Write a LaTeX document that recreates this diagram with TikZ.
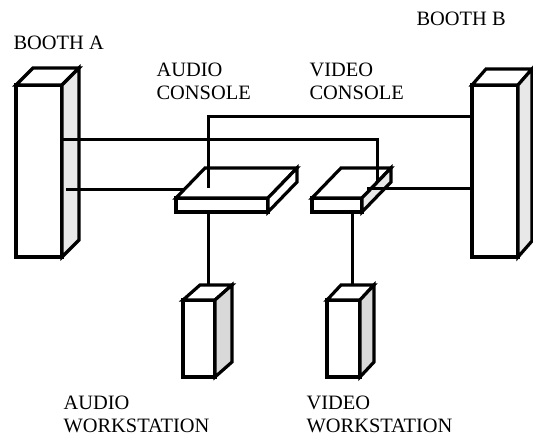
\documentclass[tikz,border=0pt]{standalone}
\usepackage{fontspec}
\setmainfont{Liberation Serif}
\begin{document}
\begin{tikzpicture}[x=1bp,y=-1bp,line join=miter,line cap=butt,line width=3.2bp]
	\tikzset{label style/.style={font=\fontsize{20.5}{23}\selectfont,inner sep=0pt,align=left},
		wire/.style={line width=3bp}}
	\useasboundingbox (0,0) rectangle (533,438);
	% boxes: x/y/width/height/dx/dy/side colour
	\foreach \x/\y/\w/\h/\dx/\dy/\c in {16/85/46/172/17/17/black!9,472/85/46/172/14/16/black!9,
		176/198/92/14/29/30/white,312/198/50/14/29/30/black!9,
		183/300/32/77/17/15/black!15,327/300/33/77/14/15/black!15}
	{
		\draw[fill=white] (\x,\y) rectangle (\x+\w,\y+\h);
		\draw[fill=white] (\x,\y)--(\x+\dx,\y-\dy)--(\x+\w+\dx,\y-\dy)--(\x+\w,\y)--cycle;
		\draw[fill=\c] (\x+\w,\y)--(\x+\w+\dx,\y-\dy)--(\x+\w+\dx,\y+\h-\dy)--(\x+\w,\y+\h)--cycle;
	}
	% connection points
	\coordinate (boothA1) at (62,140);
	\coordinate (boothA2) at (66,190);
	\coordinate (boothB1) at (472,117);
	\coordinate (boothB2) at (472,189);
	\coordinate (audioIn) at (208,188);
	\coordinate (audioEdge) at (183,190);
	\coordinate (videoIn) at (377,182);
	\coordinate (videoSide) at (367,189);
	\coordinate (audioOut) at (208,212);
	\coordinate (videoOut) at (352,212);
	\coordinate (audioWs) at (208,285);
	\coordinate (videoWs) at (352,285);
	% wires
	\draw[wire] (boothA1) -| (videoIn);
	\draw[wire] (boothA2) -- (audioEdge);
	\draw[wire] (boothB1) -| (audioIn);
	\draw[wire] (boothB2) -- (videoSide);
	\draw[wire] (audioOut) -- (audioWs);
	\draw[wire] (videoOut) -- (videoWs);
	% labels
	\node[label style,anchor=base west] (labBoothA) at (12,50) {BOOTH A};
	\node[label style,anchor=base west] (labBoothB) at (415,26) {BOOTH B};
	\node[label style,anchor=north west] (labAudioC) at (155,61) {AUDIO\\CONSOLE};
	\node[label style,anchor=north west] (labVideoC) at (308,61) {VIDEO\\CONSOLE};
	\node[label style,anchor=north west] (labAudioW) at (62,394) {AUDIO\\WORKSTATION};
	\node[label style,anchor=north west] (labVideoW) at (305,394) {VIDEO\\WORKSTATION};
\end{tikzpicture}
\end{document}
